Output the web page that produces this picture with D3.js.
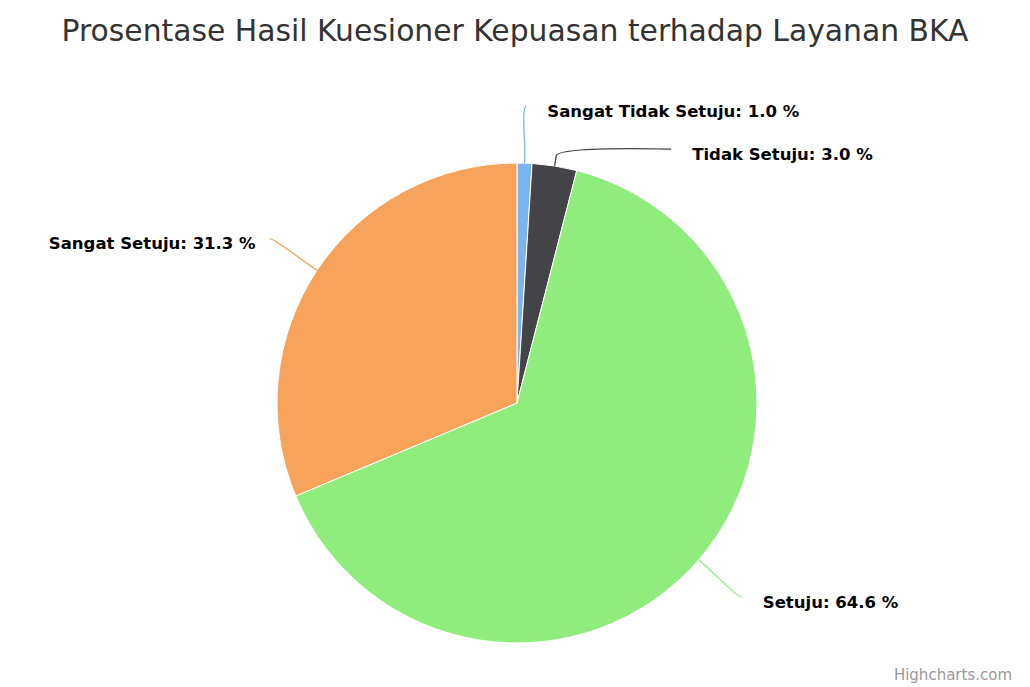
<!DOCTYPE html>
<html>
<head>
<meta charset="utf-8">
<script src="https://cdn.jsdelivr.net/npm/d3@7"></script>
<style>
  body { margin: 0; background: #fff; }
  svg { font-family: "DejaVu Sans", "Lucida Grande", Arial, sans-serif; }
</style>
</head>
<body>
<div id="main"></div>
<script>
var categories = ["Sangat Tidak Setuju", "Tidak Setuju", "Setuju", "Sangat Setuju"];
var values = [1.0, 3.0, 64.6, 31.3];
var colors = ["#7cb5ec", "#434348", "#90ed7d", "#f7a35c"];
var titleText = "Prosentase Hasil Kuesioner Kepuasan terhadap Layanan BKA";

var width = 1030,
    height = 687,
    cx = 517,
    cy = 403,
    radius = 240,
    labelRadius = 297;

var svg = d3.select("#main")
    .append("svg")
    .attr("width", width)
    .attr("height", height);

svg.append("text")
    .attr("x", width / 2)
    .attr("y", 41)
    .attr("text-anchor", "middle")
    .style("font-size", "29.8px")
    .style("fill", "#333333")
    .text(titleText);

var data = categories.map(function(c, i) { return {name: c, value: values[i], color: colors[i]}; });

var pie = d3.pie()
    .sort(null)
    .value(function(d) { return d.value; });

var arc = d3.arc()
    .innerRadius(0)
    .outerRadius(radius);

var arcs = pie(data);

var g = svg.append("g")
    .attr("transform", "translate(" + cx + "," + cy + ")");

g.selectAll("path.slice")
    .data(arcs)
    .enter()
    .append("path")
    .attr("class", "slice")
    .attr("d", arc)
    .style("fill", function(d) { return d.data.color; })
    .style("stroke", "#ffffff")
    .style("stroke-width", 1);

// label positions, roughly the way highcharts spreads them
arcs.forEach(function(d) {
    var a = (d.startAngle + d.endAngle) / 2;
    d.mid = a;
    d.side = Math.sin(a) >= 0 ? 1 : -1;
    d.ly = -labelRadius * Math.cos(a);
});

[1, -1].forEach(function(side) {
    var group = arcs.filter(function(d) { return d.side === side; })
        .sort(function(a, b) { return a.ly - b.ly; });
    var prev = -Infinity;
    group.forEach(function(d) {
        if (d.ly < prev + 43) d.ly = prev + 43;
        prev = d.ly;
    });
});

arcs.forEach(function(d) {
    var dy = Math.min(Math.abs(d.ly), labelRadius);
    d.lx = d.side * Math.sqrt(labelRadius * labelRadius - dy * dy);
});

function connector(d) {
    var a = d.mid,
        tx = radius * Math.sin(a), ty = -radius * Math.cos(a),
        bx = (radius + 10) * Math.sin(a), by = -(radius + 10) * Math.cos(a);
    return "M" + d.lx + "," + d.ly
        + "C" + (d.lx - d.side * 5) + "," + d.ly
        + " " + (2 * bx - tx) + "," + (2 * by - ty)
        + " " + bx + "," + by
        + "L" + tx + "," + ty;
}

g.selectAll("path.link")
    .data(arcs)
    .enter()
    .append("path")
    .attr("class", "link")
    .attr("d", connector)
    .style("fill", "none")
    .style("stroke", function(d) { return d.data.color; })
    .style("stroke-width", 1.3);

g.selectAll("text.label")
    .data(arcs)
    .enter()
    .append("text")
    .attr("class", "label")
    .attr("x", function(d) { return d.lx + d.side * (d.side > 0 ? 21 : 14); })
    .attr("y", function(d) { return d.ly + 5; })
    .attr("dy", ".35em")
    .attr("text-anchor", function(d) { return d.side > 0 ? "start" : "end"; })
    .style("font-size", "16.5px")
    .style("font-weight", "bold")
    .style("fill", "#000000")
    .text(function(d) { return d.data.name + ": " + d3.format(".1f")(d.data.value) + " %"; });

svg.append("text")
    .attr("x", 1012)
    .attr("y", 680)
    .attr("text-anchor", "end")
    .style("font-size", "15px")
    .style("fill", "#999999")
    .text("Highcharts.com");
</script>
</body>
</html>
